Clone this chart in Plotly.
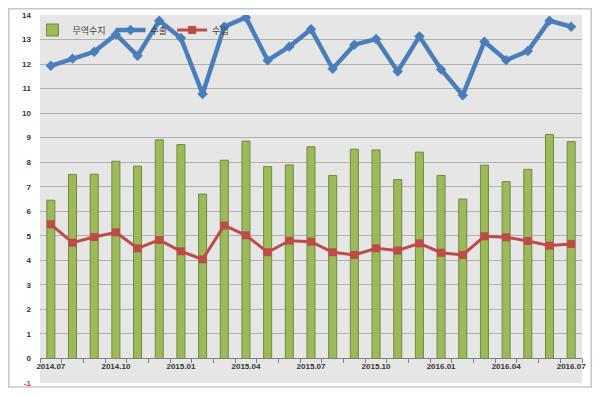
import plotly.graph_objects as go

months = ["2014.07", "2014.08", "2014.09", "2014.10", "2014.11", "2014.12",
          "2015.01", "2015.02", "2015.03", "2015.04", "2015.05", "2015.06",
          "2015.07", "2015.08", "2015.09", "2015.10", "2015.11", "2015.12",
          "2016.01", "2016.02", "2016.03", "2016.04", "2016.05", "2016.06",
          "2016.07"]
exports = [11.93, 12.22, 12.50, 13.21, 12.34, 13.77, 13.06, 10.78, 13.52, 13.90,
           12.15, 12.71, 13.42, 11.81, 12.79, 13.02, 11.70, 13.13, 11.78, 10.73,
           12.91, 12.16, 12.53, 13.77, 13.52]
imports = [5.47, 4.72, 4.95, 5.14, 4.49, 4.83, 4.37, 4.04, 5.42, 5.02,
           4.33, 4.80, 4.76, 4.33, 4.22, 4.49, 4.40, 4.69, 4.31, 4.22,
           4.98, 4.94, 4.79, 4.60, 4.67]
balance = [6.45, 7.50, 7.51, 8.04, 7.84, 8.91, 8.72, 6.70, 8.08, 8.86,
           7.82, 7.89, 8.63, 7.46, 8.53, 8.50, 7.29, 8.41, 7.46, 6.50,
           7.88, 7.21, 7.71, 9.13, 8.84]
y_ticks = list(range(-1, 15))
x_label_step = 3

xs = list(range(len(months)))

# layout geometry in figure pixels (page has an 8px body margin)
W, H = 584, 381
PL, PR, PT, PB = 32, 574, 7, 375
pw, ph = PR - PL, PB - PT

fig = go.Figure()
fig.add_trace(go.Bar(
    x=xs, y=balance, name="무역수지", width=0.37,
    marker=dict(color="#9bbb59", line=dict(color="#71893f", width=1)),
))
fig.add_trace(go.Scatter(
    x=xs, y=exports, name="수출", mode="lines+markers",
    line=dict(color="#4a7ebb", width=4.5),
    marker=dict(symbol="diamond", size=8, color="#4a7ebb"),
))
fig.add_trace(go.Scatter(
    x=xs, y=imports, name="수입", mode="lines+markers",
    line=dict(color="#be4b48", width=3),
    marker=dict(symbol="square", size=8, color="#be4b48"),
))

tick_text = ['<span style="color:#e03030">-1</span>' if v == -1 else str(v) for v in y_ticks]

fig.update_layout(
    width=W, height=H,
    margin=dict(l=PL, r=W - PR, t=PT, b=H - PB, autoexpand=False),
    paper_bgcolor="white",
    plot_bgcolor="#e6e6e6",
    showlegend=True,
    legend=dict(orientation="h", x=-0.014, y=(PB - 7.5) / ph, xanchor="left", yanchor="top",
                bgcolor="rgba(0,0,0,0)", font=dict(family="Noto Sans CJK KR", size=9, color="#404040"),
                itemwidth=30, traceorder="normal"),
    font=dict(family="Noto Sans CJK KR"),
)

fig.update_yaxes(
    range=[-1, 14], tickvals=y_ticks, ticktext=tick_text,
    showgrid=True, gridcolor="#b0b0b0", gridwidth=1,
    zeroline=False, showline=False, ticks="", automargin=False,
    tickfont=dict(family="Liberation Sans", size=8, color="#333333", weight="bold"),
    ticklabelstandoff=8,
)

fig.update_xaxes(
    range=[-0.5, len(months) - 0.5],
    anchor="free", position=1 / 15,
    tickvals=xs[::x_label_step], ticktext=months[::x_label_step],
    showgrid=False, zeroline=False, automargin=False,
    showline=True, linecolor="#7f7f7f", linewidth=1,
    ticks="", ticklabeloverflow="allow",
    tickfont=dict(family="Liberation Sans", size=8, color="#333333", weight="bold"),
    minor=dict(ticks="outside", ticklen=4, tickcolor="#7f7f7f", tick0=-0.5, dtick=1, showgrid=False),
)

fig.add_shape(type="rect", xref="paper", yref="paper",
              x0=(0.75 - PL) / pw, x1=(583.25 - PL) / pw,
              y0=(PB - 379) / ph, y1=(PB - 0.75) / ph,
              line=dict(color="#c8c8c8", width=1.5), fillcolor="rgba(0,0,0,0)", layer="below")

fig.write_html("out.html")
